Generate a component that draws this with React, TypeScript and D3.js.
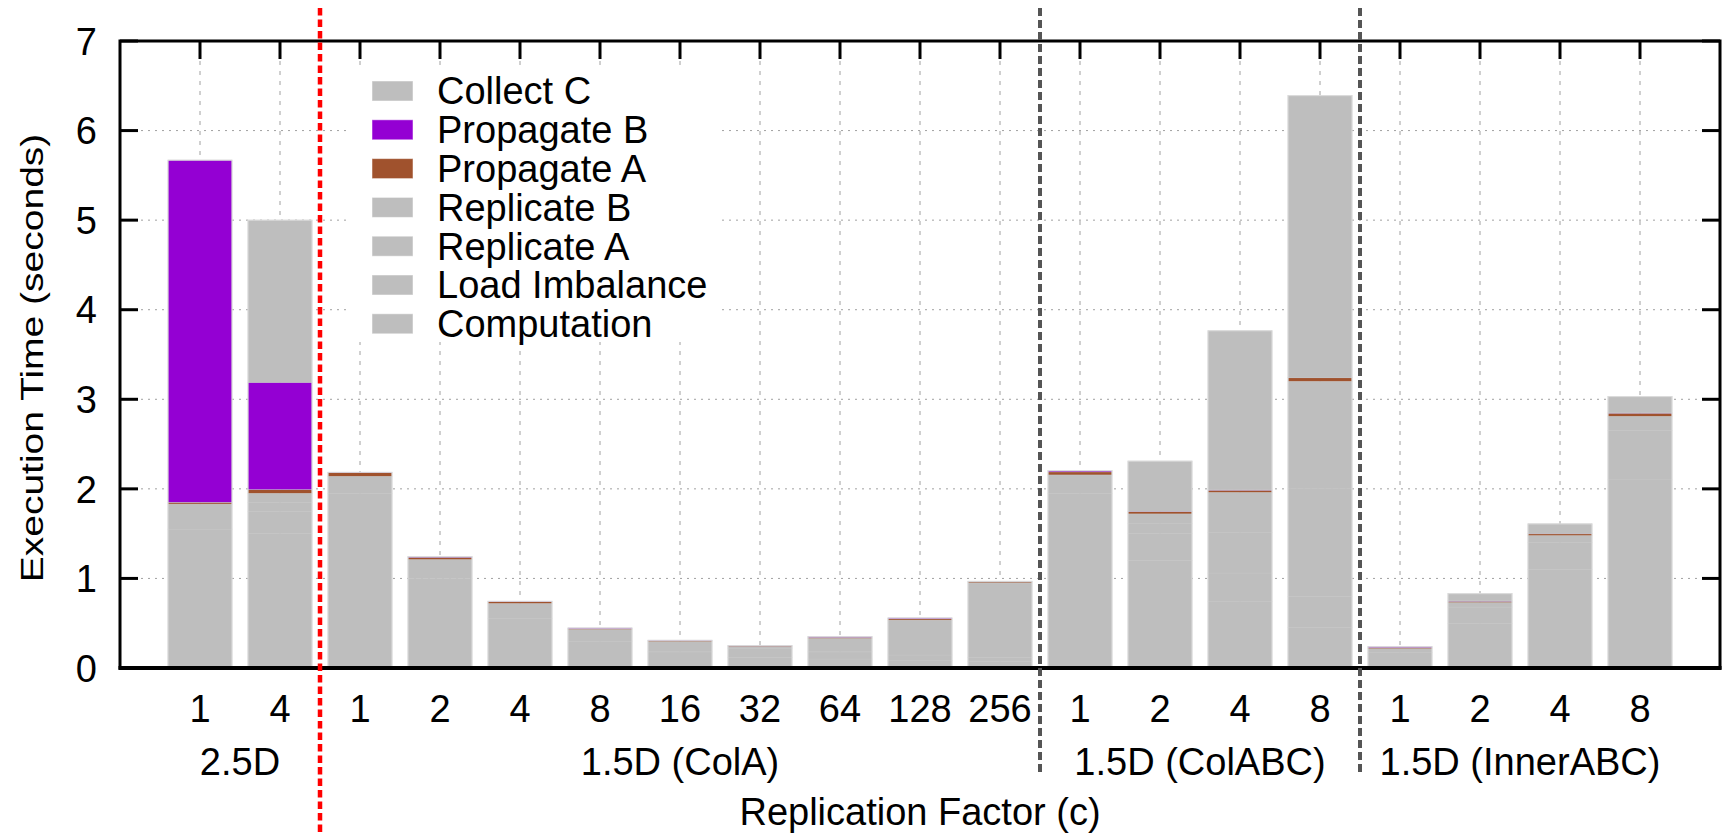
import React, { useEffect } from 'react';
import * as d3 from 'd3';

// x tick labels (replication factor c), one per bar
const categories = ['1', '4', '1', '2', '4', '8', '16', '32', '64', '128', '256', '1', '2', '4', '8', '1', '2', '4', '8'];
const groupNames = ['2.5D', '1.5D (ColA)', '1.5D (ColABC)', '1.5D (InnerABC)'];
const groupSizes = [2, 9, 4, 4];

// stacked components, seconds (bottom to top)
const computation = [1.55, 1.5, 1.95, 1.0, 0.55, 0.3, 0.18, 0.12, 0.1, 0.08, 0.07, 1.95, 1.2, 0.74, 0.45, 0.17, 0.5, 1.1, 2.1];
const loadImbalance = [0.28, 0.25, 0.19, 0.21, 0.17, 0.13, 0.115, 0.095, 0.08, 0.065, 0.05, 0.205, 0.3, 0.32, 0.35, 0.045, 0.18, 0.3, 0.55];
const replicateA = [0, 0.1, 0, 0, 0, 0, 0, 0.02, 0.15, 0.39, 0.83, 0, 0.11, 0.45, 1.2, 0, 0.05, 0.078, 0.16];
const replicateB = [0, 0.1, 0, 0, 0, 0, 0, 0, 0, 0, 0, 0, 0.11, 0.45, 1.2, 0, 0, 0, 0];
const propagateA = [0.02, 0.04, 0.04, 0.025, 0.02, 0.01, 0.01, 0.01, 0.012, 0.015, 0.012, 0.035, 0.025, 0.025, 0.04, 0.013, 0.015, 0.02, 0.035];
const propagateB = [3.82, 1.2, 0.005, 0.01, 0.005, 0.007, 0.005, 0.005, 0.008, 0.009, 0.006, 0.015, 0.005, 0.005, 0.005, 0.01, 0.005, 0.007, 0.005];
const collectC = [0, 1.81, 0, 0, 0, 0, 0, 0, 0, 0, 0, 0, 0.56, 1.775, 3.145, 0, 0.08, 0.104, 0.18];

const yTicks = [0, 1, 2, 3, 4, 5, 6, 7];

const seriesKeys = ['computation', 'loadImbalance', 'replicateA', 'replicateB', 'propagateA', 'propagateB', 'collectC'];
const seriesLabels: Record<string, string> = {
  computation: 'Computation',
  loadImbalance: 'Load Imbalance',
  replicateA: 'Replicate A',
  replicateB: 'Replicate B',
  propagateA: 'Propagate A',
  propagateB: 'Propagate B',
  collectC: 'Collect C'
};
const seriesColors: Record<string, string> = {
  computation: '#bebebe',
  loadImbalance: '#bebebe',
  replicateA: '#bebebe',
  replicateB: '#bebebe',
  propagateA: '#a0522d',
  propagateB: '#9400d3',
  collectC: '#bebebe'
};

const FONT = '"Liberation Sans", Arial, Helvetica, sans-serif';

const App = () => {
  useEffect(() => {
    document.body.style.margin = '0';
  }, []);

  const W = 1727;
  const H = 835;
  const left = 120;
  const right = 1720;
  const top = 41;
  const bottom = 668;
  const tickLen = 18;

  const x = d3.scaleLinear().domain([0, categories.length + 1]).range([left, right]);
  const y = d3.scaleLinear().domain([0, 7]).range([bottom, top]);
  const barW = x(0.8) - x(0);

  const rows = categories.map((c, i) => ({
    computation: computation[i],
    loadImbalance: loadImbalance[i],
    replicateA: replicateA[i],
    replicateB: replicateB[i],
    propagateA: propagateA[i],
    propagateB: propagateB[i],
    collectC: collectC[i]
  }));
  const stacked = d3.stack<any>().keys(seriesKeys)(rows);

  // group boundaries and centers
  const bounds: number[] = [];
  const centers: number[] = [];
  let acc = 0;
  groupSizes.forEach((n) => {
    centers.push(acc + (n + 1) / 2);
    acc += n;
    bounds.push(acc + 0.5);
  });
  const separators = bounds.slice(0, -1);

  const legendOrder = [...seriesKeys].reverse();

  return (
    <svg width={W} height={H} style={{ position: 'absolute', left: 0, top: 0, background: '#fff' }} fontFamily={FONT}>
      {/* grid */}
      {yTicks.slice(1, -1).map((t) => (
        <line key={'gy' + t} x1={left} x2={right} y1={y(t)} y2={y(t)} stroke="#a0a0a0" strokeWidth={1} strokeDasharray="2,5" />
      ))}
      {categories.map((c, i) => (
        <line key={'gx' + i} x1={x(i + 1)} x2={x(i + 1)} y1={top} y2={bottom} stroke="#a0a0a0" strokeWidth={1} strokeDasharray="4,6" />
      ))}

      {/* legend background */}
      <rect x={347} y={71} width={375} height={271} fill="#fff" />

      {/* bars */}
      {stacked.map((layer) => (
        <g key={layer.key} fill={seriesColors[layer.key]}>
          {layer.map((d, i) =>
            d[1] - d[0] > 0 ? (
              <rect
                key={i}
                x={x(i + 1) - barW / 2}
                width={barW}
                y={y(d[1])}
                height={y(d[0]) - y(d[1])}
                stroke="#c4c4c4"
                strokeWidth={0.5}
              />
            ) : null
          )}
        </g>
      ))}
      {/* light outline round each bar */}
      {categories.map((c, i) => {
        const last = stacked[stacked.length - 1][i][1];
        return (
          <rect key={'o' + i} x={x(i + 1) - barW / 2} width={barW} y={y(last)} height={y(0) - y(last)} fill="none" stroke="#dcdcdc" strokeWidth={1} />
        );
      })}

      {/* legend */}
      {legendOrder.map((k, j) => {
        const cy = 91 + j * 38.8;
        return (
          <g key={'lg' + k}>
            <rect x={372} y={cy - 10} width={41} height={20} fill={seriesColors[k]} stroke="#fff" strokeOpacity={0.5} strokeWidth={1} />
            <text x={437} y={cy} dy="0.35em" fontSize={38} fill="#000">
              {seriesLabels[k]}
            </text>
          </g>
        );
      })}

      {/* frame */}
      <rect x={left} y={top} width={right - left} height={bottom - top} fill="none" stroke="#000" strokeWidth={3} />
      <line x1={left - 1.5} x2={right + 1.5} y1={bottom} y2={bottom} stroke="#000" strokeWidth={4} />

      {/* y ticks */}
      {yTicks.map((t) => (
        <g key={'yt' + t}>
          <line x1={left} x2={left + tickLen} y1={y(t)} y2={y(t)} stroke="#000" strokeWidth={3} />
          <line x1={right} x2={right - tickLen} y1={y(t)} y2={y(t)} stroke="#000" strokeWidth={3} />
          <text x={97} y={y(t)} dy="0.36em" textAnchor="end" fontSize={38}>
            {t}
          </text>
        </g>
      ))}

      {/* x ticks (top mirror) and labels */}
      {categories.map((c, i) => (
        <g key={'xt' + i}>
          <line x1={x(i + 1)} x2={x(i + 1)} y1={top} y2={top + tickLen} stroke="#000" strokeWidth={3} />
          <text x={x(i + 1)} y={722} textAnchor="middle" fontSize={38}>
            {c}
          </text>
        </g>
      ))}

      {groupNames.map((g, j) => (
        <text key={'gn' + j} x={x(centers[j])} y={775} textAnchor="middle" fontSize={38}>
          {g}
        </text>
      ))}

      {/* group separators */}
      {separators.map((b, j) =>
        j === 0 ? (
          <line key={'sep' + j} x1={x(b)} x2={x(b)} y1={8} y2={H} stroke="#ff0000" strokeWidth={4.5} strokeDasharray="7.5,4" />
        ) : (
          <line key={'sep' + j} x1={x(b)} x2={x(b)} y1={8} y2={773} stroke="#555" strokeWidth={4} strokeDasharray="8,4" />
        )
      )}

      {/* axis titles */}
      <text x={(left + right) / 2} y={825} textAnchor="middle" fontSize={38}>
        Replication Factor (c)
      </text>
      <text transform={`translate(43, 358) rotate(-90) scale(1, 0.82)`} textAnchor="middle" fontSize={39}>
        Execution Time (seconds)
      </text>
    </svg>
  );
};

export default App;
